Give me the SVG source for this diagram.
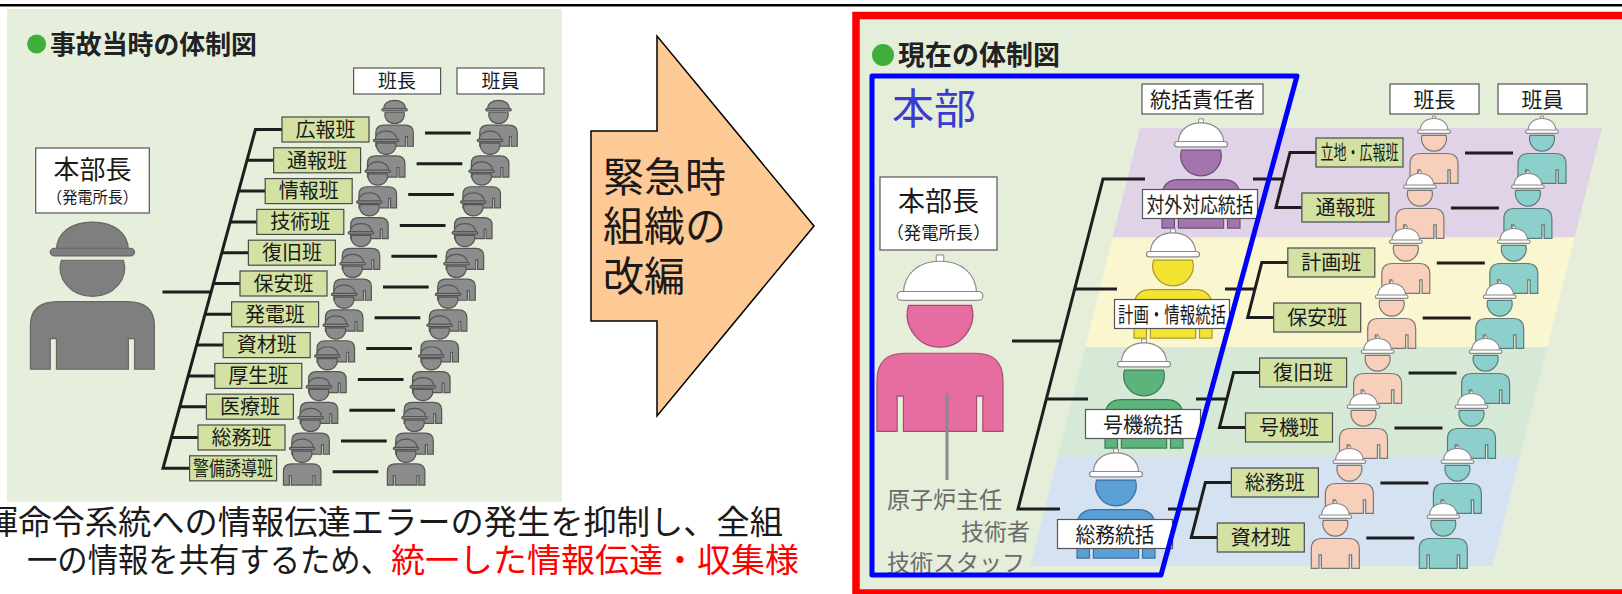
<svg xmlns="http://www.w3.org/2000/svg" xmlns:xlink="http://www.w3.org/1999/xlink" width="1622" height="594" viewBox="0 0 1622 594">
  <style>
    text { font-family: "Noto Sans CJK JP", "Noto Sans", sans-serif; }
    .ink { fill: #1a1a1a; }
    .title { font-weight: 700; fill: #222; }
    .box { fill: #fff; stroke: #555; stroke-width: 1.2; }
    .team { fill: #d3e2a3; stroke: #4a4a4a; stroke-width: 1.2; }
    .wire { fill: none; stroke: #1e1e1e; stroke-width: 3; stroke-linecap: butt; }
  </style>
  <defs>
    <!-- worker figure, body width 100, centred on x=0, helmet top at y=0 -->
    <g id="worker">
      <path vector-effect="non-scaling-stroke" stroke-width="1.2" d="M-50 136 V96 Q-50 74 -28 74 H28 Q50 74 50 96 V136 H34 V108 H29 V136 H-29 V108 H-34 V136 Z"/>
      <path vector-effect="non-scaling-stroke" stroke-width="1.2" d="M25 36 A26 26 0 1 1 -25 36 Z"/>
      <rect x="-3" y="-4" width="6" height="6" fill="#fff" stroke="#8a8a8a" stroke-width="1" vector-effect="non-scaling-stroke"/>
      <path d="M-29 27 C-29 10 -16 1 0 1 C16 1 29 10 29 27 Z" fill="#fff" stroke="#8a8a8a" stroke-width="1.2" vector-effect="non-scaling-stroke"/>
      <rect x="-34" y="25" width="68" height="7" rx="3.5" fill="#fff" stroke="#8a8a8a" stroke-width="1.2" vector-effect="non-scaling-stroke"/>
    </g>
    <!-- all-grey worker figure -->
    <g id="worker-g">
      <path vector-effect="non-scaling-stroke" stroke-width="1.2" d="M-50 136 V96 Q-50 74 -28 74 H28 Q50 74 50 96 V136 H34 V108 H29 V136 H-29 V108 H-34 V136 Z"/>
      <path vector-effect="non-scaling-stroke" stroke-width="1.2" d="M25 36 A26 26 0 1 1 -25 36 Z"/>
      <path vector-effect="non-scaling-stroke" stroke-width="1.2" d="M-29 27 C-29 10 -16 1 0 1 C16 1 29 10 29 27 Z"/>
      <rect vector-effect="non-scaling-stroke" stroke-width="1.2" x="-34" y="25" width="68" height="7" rx="3.5"/>
    </g>
  </defs>

  <rect width="1622" height="594" fill="#fff"/>
  <line x1="0" y1="5.3" x2="1622" y2="5.3" stroke="#000" stroke-width="2.5"/>

  <!-- ============ left: organisation at the time of the accident ============ -->
  <g id="old-chart">
    <rect x="7" y="9" width="555" height="493" fill="#e5efdb"/>
    <g id="old-title">
      <circle cx="36.6" cy="44" r="9.5" fill="#3fae3a"/>
      <text x="50" y="54" font-size="26" class="title" textLength="207" lengthAdjust="spacingAndGlyphs">事故当時の体制図</text>
    </g>

    <g id="old-head-label">
      <rect class="box" x="35.7" y="148" width="113.6" height="65"/>
      <text x="92.5" y="179" font-size="26" text-anchor="middle" class="ink">本部長</text>
      <text x="92.5" y="203" font-size="16" text-anchor="middle" class="ink" textLength="91" lengthAdjust="spacingAndGlyphs">（発電所長）</text>
    </g>
    <g id="old-head-figure">
      <use href="#worker-g" transform="translate(92.4 221) scale(1.24 1.09)" fill="#7f7f7f" stroke="#666"/>
    </g>

    <g id="old-column-heads" font-size="19" text-anchor="middle" class="ink">
      <rect class="box" x="353.6" y="68" width="87" height="26"/>
      <text x="397.1" y="88">班長</text>
      <rect class="box" x="457" y="68" width="87" height="26"/>
      <text x="500.5" y="88">班員</text>
    </g>

    <g id="old-connectors">
      <path class="wire" d="M162.5 292 H211.1"/>
      <path class="wire" d="M282 129.5 H255.4 L163 468.3 H189.6"/>
      <path class="wire" d="M247 160.3 H273.6 M238.6 191.1 H265.2 M230.2 221.9 H256.8 M221.8 252.7 H248.4 M213.4 283.5 H240 M205 314.3 H231.6 M196.6 345.1 H223.2 M188.2 375.9 H214.8 M179.8 406.7 H206.4 M171.4 437.5 H198"/>
      <path class="wire" d="M425 133 H470.7 M416.6 163.8 H462.3 M408.2 194.6 H453.9 M399.8 225.4 H445.5 M391.4 256.2 H437.1 M383 287 H428.7 M374.6 317.8 H420.3 M366.2 348.6 H411.9 M357.8 379.4 H403.5 M349.4 410.2 H395.1 M341 441 H386.7 M332.6 471.8 H378.3"/>
    </g>

    <g id="old-teams" font-size="20" text-anchor="middle" class="ink">
      <rect class="team" x="282" y="117" width="87" height="25"/><text x="325.5" y="136.7">広報班</text>
      <rect class="team" x="273.6" y="147.8" width="87" height="25"/><text x="317.1" y="167.5">通報班</text>
      <rect class="team" x="265.2" y="178.6" width="87" height="25"/><text x="308.7" y="198.3">情報班</text>
      <rect class="team" x="256.8" y="209.4" width="87" height="25"/><text x="300.3" y="229.1">技術班</text>
      <rect class="team" x="248.4" y="240.2" width="87" height="25"/><text x="291.9" y="259.9">復旧班</text>
      <rect class="team" x="240" y="271" width="87" height="25"/><text x="283.5" y="290.7">保安班</text>
      <rect class="team" x="231.6" y="301.8" width="87" height="25"/><text x="275.1" y="321.5">発電班</text>
      <rect class="team" x="223.2" y="332.6" width="87" height="25"/><text x="266.7" y="352.3">資材班</text>
      <rect class="team" x="214.8" y="363.4" width="87" height="25"/><text x="258.3" y="383.1">厚生班</text>
      <rect class="team" x="206.4" y="394.2" width="87" height="25"/><text x="249.9" y="413.9">医療班</text>
      <rect class="team" x="198" y="425" width="87" height="25"/><text x="241.5" y="444.7">総務班</text>
      <rect class="team" x="189.6" y="455.8" width="87" height="25"/><text x="233.1" y="475.5" textLength="80" lengthAdjust="spacingAndGlyphs">警備誘導班</text>
    </g>

    <g id="old-members" fill="#8c8c8c" stroke="#555">
      <use href="#worker-g" transform="translate(394.6 100) scale(0.375 0.34)"/>
      <use href="#worker-g" transform="translate(498.5 100) scale(0.375 0.34)"/>
      <use href="#worker-g" transform="translate(386.2 130.8) scale(0.375 0.34)"/>
      <use href="#worker-g" transform="translate(490.1 130.8) scale(0.375 0.34)"/>
      <use href="#worker-g" transform="translate(377.8 161.6) scale(0.375 0.34)"/>
      <use href="#worker-g" transform="translate(481.7 161.6) scale(0.375 0.34)"/>
      <use href="#worker-g" transform="translate(369.4 192.4) scale(0.375 0.34)"/>
      <use href="#worker-g" transform="translate(473.3 192.4) scale(0.375 0.34)"/>
      <use href="#worker-g" transform="translate(361 223.2) scale(0.375 0.34)"/>
      <use href="#worker-g" transform="translate(464.9 223.2) scale(0.375 0.34)"/>
      <use href="#worker-g" transform="translate(352.6 254) scale(0.375 0.34)"/>
      <use href="#worker-g" transform="translate(456.5 254) scale(0.375 0.34)"/>
      <use href="#worker-g" transform="translate(344.2 284.8) scale(0.375 0.34)"/>
      <use href="#worker-g" transform="translate(448.1 284.8) scale(0.375 0.34)"/>
      <use href="#worker-g" transform="translate(335.8 315.6) scale(0.375 0.34)"/>
      <use href="#worker-g" transform="translate(439.7 315.6) scale(0.375 0.34)"/>
      <use href="#worker-g" transform="translate(327.4 346.4) scale(0.375 0.34)"/>
      <use href="#worker-g" transform="translate(431.3 346.4) scale(0.375 0.34)"/>
      <use href="#worker-g" transform="translate(319 377.2) scale(0.375 0.34)"/>
      <use href="#worker-g" transform="translate(422.9 377.2) scale(0.375 0.34)"/>
      <use href="#worker-g" transform="translate(310.6 408) scale(0.375 0.34)"/>
      <use href="#worker-g" transform="translate(414.5 408) scale(0.375 0.34)"/>
      <use href="#worker-g" transform="translate(302.2 438.8) scale(0.375 0.34)"/>
      <use href="#worker-g" transform="translate(406.1 438.8) scale(0.375 0.34)"/>
    </g>
  </g>

  <!-- ============ block arrow ============ -->
  <g id="reorg-arrow">
    <polygon points="591,131 657,131 657,36 814,226 657,416 657,321 591,321" fill="#fdca96" stroke="#000" stroke-width="1.5"/>
    <text font-size="41" class="ink">
      <tspan x="603" y="192">緊急時</tspan>
      <tspan x="603" y="241">組織の</tspan>
      <tspan x="603" y="291">改編</tspan>
    </text>
  </g>

  <!-- ============ caption under the left chart ============ -->
  <g id="caption" font-size="33">
    <text x="-15" y="534" class="ink" textLength="798" lengthAdjust="spacingAndGlyphs">揮命令系統への情報伝達エラーの発生を抑制し、全組</text>
    <text x="27" y="572" class="ink" textLength="364" lengthAdjust="spacingAndGlyphs">一の情報を共有するため、</text>
    <text x="391" y="572" fill="#ff0000" textLength="408" lengthAdjust="spacingAndGlyphs">統一した情報伝達・収集様</text>
  </g>

  <!-- ============ right: current organisation ============ -->
  <g id="new-chart">
    <rect x="856" y="15.5" width="800" height="577.5" fill="#e4eed9" stroke="#ff0000" stroke-width="7.5"/>
    <g id="new-title">
      <circle cx="883" cy="55" r="11" fill="#3fae3a"/>
      <text x="898" y="65" font-size="27" class="title" textLength="162" lengthAdjust="spacingAndGlyphs">現在の体制図</text>
    </g>

    <!-- coloured bands for the four functional groups -->
    <g id="bands">
      <polygon points="1140,128 1602,128 1574.6,237.5 1112.6,237.5" fill="#e0d3e7"/>
      <polygon points="1112.6,237.5 1574.6,237.5 1547.3,347 1085.3,347" fill="#faf6d0"/>
      <polygon points="1085.3,347 1547.3,347 1519.9,456.5 1057.9,456.5" fill="#d6e8d6"/>
      <polygon points="1057.9,456.5 1519.9,456.5 1492.5,566 1030.5,566" fill="#d5e2f1"/>
    </g>

    <g id="new-connectors">
      <path class="wire" d="M1012 341 H1061.3"/>
      <path class="wire" d="M1145 179 H1103 L1018 509 H1060 M1074.7 289 H1117 M1046.3 399 H1088"/>
      <path class="wire" d="M1316 152.5 H1290 L1275.9 207.5 H1301.9 M1253 179 H1283.3"/>
      <path class="wire" d="M1287.8 262.5 H1261.8 L1247.7 317.5 H1273.7 M1225 289 H1255"/>
      <path class="wire" d="M1259.6 372.5 H1233.6 L1219.5 427.5 H1245.5 M1196 399 H1226.7"/>
      <path class="wire" d="M1231.4 482.5 H1205.4 L1191.3 537.5 H1217.3 M1168 509 H1198.5"/>
      <path class="wire" d="M1465 153 H1513 M1450.9 208 H1498.9 M1436.8 263 H1484.8 M1422.7 318 H1470.7 M1408.6 373 H1456.6 M1394.5 428 H1442.5 M1380.4 483 H1428.4 M1366.3 538 H1414.3"/>
    </g>

    <g id="new-head-label">
      <rect class="box" x="880" y="177" width="117" height="73"/>
      <text x="938.5" y="211" font-size="27" text-anchor="middle" class="ink">本部長</text>
      <text x="938.5" y="238.5" font-size="17" text-anchor="middle" class="ink" textLength="104" lengthAdjust="spacingAndGlyphs">（発電所長）</text>
    </g>
    <g id="new-head-figure">
      <use href="#worker" transform="translate(940 260) scale(1.26)" fill="#e76ca0" stroke="#a64d75"/>
      <line x1="947" y1="393" x2="947" y2="480" stroke="#8a8a8a" stroke-width="3"/>
    </g>
    <g id="engineers" font-size="23" fill="#6b6b6b">
      <text x="887" y="508">原子炉主任</text>
      <text x="1030" y="540" text-anchor="end">技術者</text>
      <text x="887" y="571">技術スタッフ</text>
    </g>

    <g id="lead-caption">
      <rect class="box" x="1142" y="84" width="121" height="30"/>
      <text x="1202.5" y="106.5" font-size="21" text-anchor="middle" class="ink">統括責任者</text>
    </g>

    <g id="leads" font-size="21" text-anchor="middle">
      <g id="lead-external">
        <use href="#worker" transform="translate(1201 122) scale(0.78)" fill="#a375ac" stroke="#6f4f78"/>
        <rect class="box" x="1142.5" y="189.5" width="115" height="29"/>
        <text x="1200" y="211.8" class="ink" textLength="107" lengthAdjust="spacingAndGlyphs">対外対応統括</text>
      </g>
      <g id="lead-planning">
        <use href="#worker" transform="translate(1173 232) scale(0.78)" fill="#f4e432" stroke="#a8992a"/>
        <rect class="box" x="1114.5" y="299.5" width="115" height="29"/>
        <text x="1172" y="321.8" class="ink" textLength="108" lengthAdjust="spacingAndGlyphs">計画・情報統括</text>
      </g>
      <g id="lead-unit">
        <use href="#worker" transform="translate(1144 342) scale(0.78)" fill="#5db37c" stroke="#3d7d55"/>
        <rect class="box" x="1085.5" y="409.5" width="115" height="29"/>
        <text x="1143" y="431.8" class="ink" textLength="80" lengthAdjust="spacingAndGlyphs">号機統括</text>
      </g>
      <g id="lead-general">
        <use href="#worker" transform="translate(1116 452) scale(0.78)" fill="#5b9fd7" stroke="#3f6f9e"/>
        <rect class="box" x="1057.5" y="519.5" width="115" height="29"/>
        <text x="1115" y="541.8" class="ink" textLength="79" lengthAdjust="spacingAndGlyphs">総務統括</text>
      </g>
    </g>

    <g id="new-column-heads" font-size="21" text-anchor="middle" class="ink">
      <rect class="box" x="1390" y="84" width="89" height="30"/>
      <text x="1434.5" y="106.5">班長</text>
      <rect class="box" x="1498" y="84" width="89" height="30"/>
      <text x="1542.5" y="106.5">班員</text>
    </g>

    <g id="new-teams" font-size="20" text-anchor="middle" class="ink">
      <rect class="team" x="1316" y="138" width="87" height="29"/><text x="1359.5" y="159.9" textLength="78" lengthAdjust="spacingAndGlyphs">立地・広報班</text>
      <rect class="team" x="1301.9" y="193" width="87" height="29"/><text x="1345.4" y="214.9">通報班</text>
      <rect class="team" x="1287.8" y="248" width="87" height="29"/><text x="1331.3" y="269.9">計画班</text>
      <rect class="team" x="1273.7" y="303" width="87" height="29"/><text x="1317.2" y="324.9">保安班</text>
      <rect class="team" x="1259.6" y="358" width="87" height="29"/><text x="1303.1" y="379.9">復旧班</text>
      <rect class="team" x="1245.5" y="413" width="87" height="29"/><text x="1289" y="434.9">号機班</text>
      <rect class="team" x="1231.4" y="468" width="87" height="29"/><text x="1274.9" y="489.9">総務班</text>
      <rect class="team" x="1217.3" y="523" width="87" height="29"/><text x="1260.8" y="544.9">資材班</text>
    </g>

    <g id="new-members">
      <use href="#worker" transform="translate(1434 118) scale(0.48)" fill="#f8cfba" stroke="#787878"/>
      <use href="#worker" transform="translate(1542 118) scale(0.48)" fill="#8dd0cb" stroke="#5c7c79"/>
      <use href="#worker" transform="translate(1419.9 173) scale(0.48)" fill="#f8cfba" stroke="#787878"/>
      <use href="#worker" transform="translate(1527.9 173) scale(0.48)" fill="#8dd0cb" stroke="#5c7c79"/>
      <use href="#worker" transform="translate(1405.8 228) scale(0.48)" fill="#f8cfba" stroke="#787878"/>
      <use href="#worker" transform="translate(1513.8 228) scale(0.48)" fill="#8dd0cb" stroke="#5c7c79"/>
      <use href="#worker" transform="translate(1391.7 283) scale(0.48)" fill="#f8cfba" stroke="#787878"/>
      <use href="#worker" transform="translate(1499.7 283) scale(0.48)" fill="#8dd0cb" stroke="#5c7c79"/>
      <use href="#worker" transform="translate(1377.6 338) scale(0.48)" fill="#f8cfba" stroke="#787878"/>
      <use href="#worker" transform="translate(1485.6 338) scale(0.48)" fill="#8dd0cb" stroke="#5c7c79"/>
      <use href="#worker" transform="translate(1363.5 393) scale(0.48)" fill="#f8cfba" stroke="#787878"/>
      <use href="#worker" transform="translate(1471.5 393) scale(0.48)" fill="#8dd0cb" stroke="#5c7c79"/>
      <use href="#worker" transform="translate(1349.4 448) scale(0.48)" fill="#f8cfba" stroke="#787878"/>
      <use href="#worker" transform="translate(1457.4 448) scale(0.48)" fill="#8dd0cb" stroke="#5c7c79"/>
      <use href="#worker" transform="translate(1335.3 503) scale(0.48)" fill="#f8cfba" stroke="#787878"/>
      <use href="#worker" transform="translate(1443.3 503) scale(0.48)" fill="#8dd0cb" stroke="#5c7c79"/>
    </g>

    <!-- headquarters outline -->
    <g id="hq">
      <polygon points="872,76 1297,76 1161,575 872,575" fill="none" stroke="#0000ff" stroke-width="5" stroke-linejoin="round"/>
      <text x="892" y="124" font-size="42" fill="#3b3bd4">本部</text>
    </g>
  </g>
</svg>
